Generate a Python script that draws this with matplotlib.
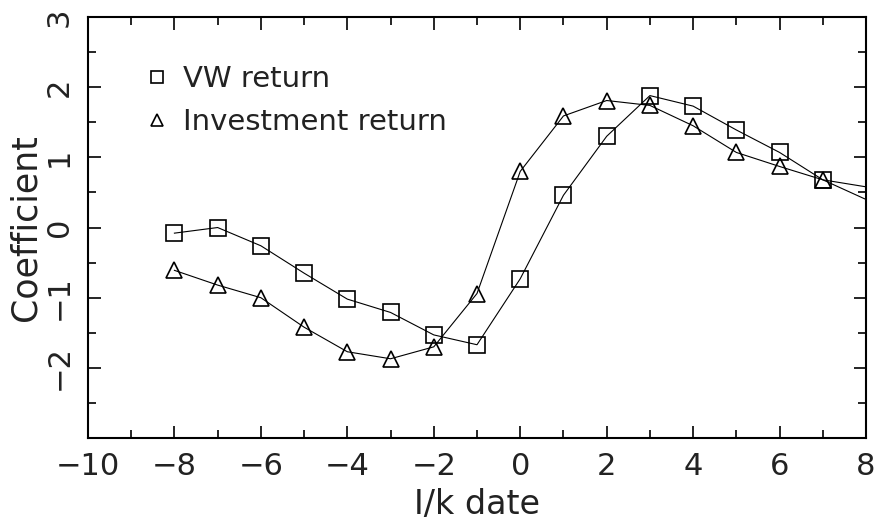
import matplotlib
matplotlib.use("Agg")
import matplotlib.pyplot as plt
from matplotlib.ticker import MultipleLocator

# Data
x = [-8, -7, -6, -5, -4, -3, -2, -1, 0, 1, 2, 3, 4, 5, 6, 7, 8]
vw_return = [-0.08, 0.0, -0.26, -0.65, -1.02, -1.21, -1.53, -1.67, -0.73,
             0.46, 1.30, 1.88, 1.73, 1.39, 1.07, 0.68, 0.40]
investment_return = [-0.61, -0.82, -1.00, -1.42, -1.77, -1.87, -1.70, -0.94, 0.80,
                     1.59, 1.81, 1.74, 1.45, 1.07, 0.87, 0.68, 0.58]
x_ticks = [-10, -8, -6, -4, -2, 0, 2, 4, 6, 8]
y_ticks = [-2, -1, 0, 1, 2, 3]
x_tick_labels = ['\u221210', '\u22128', '\u22126', '\u22124', '\u22122', '0', '2', '4', '6', '8']
y_tick_labels = ['\u22122', '\u22121', '0', '1', '2', '3']
series_labels = ["VW return", "Investment return"]

plt.rcParams['font.family'] = ['DejaVu Sans']

fig = plt.figure(figsize=(8.77, 5.31), dpi=100)
ax = fig.add_axes([0.1003, 0.175, 0.8872, 0.793])

n_mark = len(x) - 1  # last point drawn only as the line end at the edge
l1, = ax.plot(x, vw_return, color='black', lw=0.8, marker='s', markersize=12,
              markerfacecolor='none', markeredgewidth=1.2, markevery=list(range(n_mark)),
              label=series_labels[0])
l2, = ax.plot(x, investment_return, color='black', lw=0.8, marker='^', markersize=12,
              markerfacecolor='none', markeredgewidth=1.2, markevery=list(range(n_mark)),
              label=series_labels[1])

ax.set_xlim(-10, 8)
ax.set_ylim(-3, 3)
ax.set_xticks(x_ticks)
ax.set_yticks(y_ticks)
ax.set_xticklabels(x_tick_labels)
ax.set_yticklabels(y_tick_labels)
ax.xaxis.set_minor_locator(MultipleLocator(1))
ax.yaxis.set_minor_locator(MultipleLocator(0.5))

ax.tick_params(axis='both', which='both', direction='in', top=True, right=True,
               width=1.2, colors='black')
ax.tick_params(axis='both', which='major', length=9, labelsize=22)
ax.tick_params(axis='both', which='minor', length=6)
ax.tick_params(axis='x', which='major', pad=10)
ax.tick_params(axis='y', which='major', pad=10)
for lab in ax.get_xticklabels():
    lab.set_color('#222222')
for lab in ax.get_yticklabels():
    lab.set_rotation(90)
    lab.set_va('center')
    lab.set_color('#222222')

for sp in ax.spines.values():
    sp.set_linewidth(1.5)

ax.set_xlabel("I/k date", fontsize=24, color='#222222', labelpad=5)
ax.set_ylabel("Coefficient", fontsize=25, color='#222222', labelpad=2)

leg = ax.legend(handles=[l1, l2], loc='upper left', bbox_to_anchor=(0.055, 0.92),
                frameon=False, fontsize=21, markerscale=0.7, handlelength=0.8,
                handletextpad=0.5, labelspacing=0.5, borderpad=0)
for h in leg.legend_handles:
    h.set_linestyle('none')
for t in leg.get_texts():
    t.set_color('#222222')

fig.savefig("out.png", dpi=100)
